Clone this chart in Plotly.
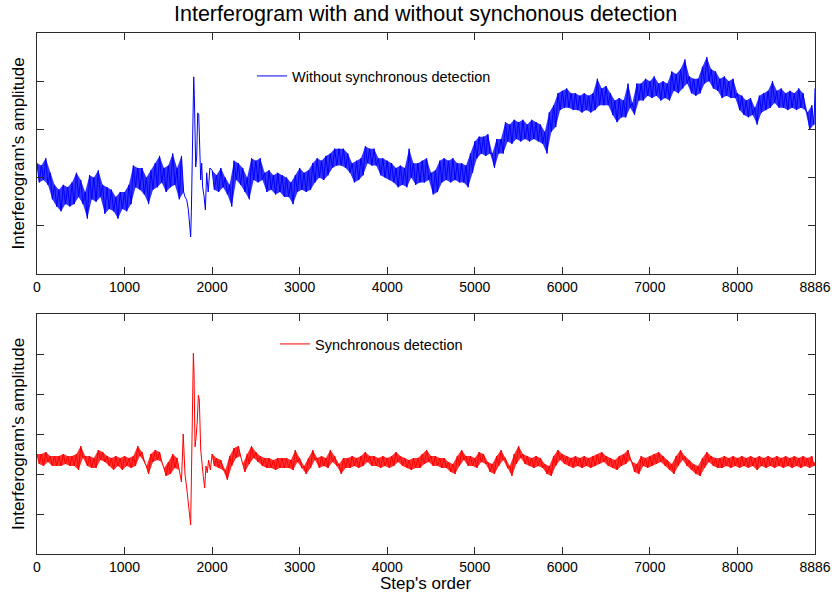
import plotly.graph_objects as go

# ---------------- data ----------------
# Sampling grids (steps) of the noisy band; the band is drawn as a dense
# trace that alternates between its read upper and lower envelope.
grid_a = list(range(0, 1651, 50))          # top, before the burst
grid_a_low = list(range(25, 1676, 50))
grid_b = list(range(2000, 8851, 50))       # after the burst
grid_b_low = list(range(2025, 8876, 50))
grid_c = list(range(0, 1601, 50))          # bottom, before the burst
grid_c_low = list(range(25, 1626, 50))

# ---- Top panel: without synchronous detection ----
top_upper_a = [
    2.3, 2.25, 2.4, 2.1, 1.85, 1.75, 1.85, 1.8, 1.9, 2.1,
    1.95, 1.7, 2.05, 2.0, 2.15, 1.85, 1.8, 1.75, 1.6, 1.7,
    1.7, 1.85, 2.25, 2.2, 2.2, 2.0, 2.15, 2.3, 2.45, 2.2,
    2.25, 2.5, 2.2, 2.45,
]
top_lower_a = [
    1.9, 1.95, 1.85, 1.55, 1.4, 1.3, 1.45, 1.4, 1.45, 1.6,
    1.45, 1.15, 1.55, 1.5, 1.6, 1.25, 1.35, 1.3, 1.15, 1.35,
    1.3, 1.45, 1.8, 1.75, 1.65, 1.45, 1.75, 1.8, 1.9, 1.7,
    1.8, 1.85, 1.55, 1.7,
]
top_burst_steps = [1690, 1710, 1729, 1748, 1755, 1763, 1774, 1782, 1790, 1797, 1805,
                   1813, 1824, 1835, 1847, 1858, 1870, 1881, 1892, 1908, 1923, 1938,
                   1955, 1975]
top_burst_amp = [1.6, 1.54, 1.33, 0.91, 0.77, 1.3, 2.78, 3.75, 4.09, 3.7, 2.78,
                 2.22, 2.43, 3.34, 3.32, 2.43, 1.95, 2.3, 1.8, 1.62, 1.33, 2.1,
                 1.7, 2.2]
top_upper_b = [
    2.15, 2.05, 2.2, 2.0, 1.85, 2.35, 2.3, 2.2, 2.0,
    2.4, 2.35, 2.4, 2.1, 2.15, 2.05, 2.1, 2.05, 2.0, 1.9,
    2.05, 2.2, 2.1, 2.15, 2.3, 2.4, 2.35, 2.45, 2.5, 2.6,
    2.6, 2.6, 2.5, 2.3, 2.35, 2.4, 2.65, 2.6, 2.6, 2.4,
    2.4, 2.35, 2.3, 2.2, 2.25, 2.2, 2.6, 2.3, 2.3, 2.35,
    2.4, 2.1, 2.15, 2.35, 2.4, 2.35, 2.4, 2.3, 2.3, 2.25,
    2.5, 2.75, 2.85, 2.85, 2.9, 2.5, 2.8, 2.8, 3.15, 3.1,
    3.2, 3.15, 3.2, 3.1, 3.2, 3.15, 3.1, 2.95, 3.35, 3.5,
    3.75, 3.8, 3.85, 3.75, 3.75, 3.7, 3.75, 3.7, 3.75, 4.05,
    3.85, 3.9, 3.75, 3.6, 3.65, 3.6, 3.95, 3.55, 3.95, 3.95,
    4.05, 4.0, 4.1, 3.95, 4.0, 3.95, 4.2, 4.15, 4.25, 4.45,
    4.1, 4.05, 4.05, 4.3, 4.5, 4.25, 4.2, 4.05, 4.1, 4.0,
    4.05, 3.75, 3.7, 3.6, 3.65, 3.45, 3.7, 3.75, 3.8, 4.0,
    3.8, 3.85, 3.75, 3.8, 3.75, 3.85, 3.75, 3.35, 3.5,
]
top_lower_b = [
    1.75, 1.7, 1.8, 1.65, 1.4, 1.95, 1.85, 1.7, 1.55,
    1.95, 1.9, 1.95, 1.7, 1.75, 1.65, 1.7, 1.6, 1.6, 1.45,
    1.7, 1.75, 1.7, 1.75, 1.9, 2.0, 1.95, 2.05, 2.2, 2.25,
    2.25, 2.2, 2.1, 1.9, 1.95, 2.05, 2.3, 2.25, 2.25, 2.05,
    2.0, 1.95, 1.9, 1.8, 1.85, 1.8, 2.0, 1.85, 1.9, 1.9,
    1.95, 1.65, 1.7, 1.9, 1.95, 1.9, 1.95, 1.9, 1.9, 1.8,
    2.1, 2.4, 2.5, 2.45, 2.5, 2.2, 2.5, 2.5, 2.75, 2.7,
    2.8, 2.75, 2.8, 2.75, 2.8, 2.75, 2.7, 2.5, 2.95, 3.05,
    3.4, 3.45, 3.45, 3.4, 3.4, 3.35, 3.4, 3.35, 3.4, 3.5,
    3.5, 3.5, 3.3, 3.15, 3.25, 3.25, 3.45, 3.3, 3.6, 3.6,
    3.7, 3.65, 3.7, 3.6, 3.65, 3.6, 3.8, 3.75, 3.85, 3.95,
    3.75, 3.7, 3.75, 3.95, 4.0, 3.85, 3.8, 3.65, 3.7, 3.65,
    3.65, 3.4, 3.3, 3.25, 3.3, 3.1, 3.35, 3.4, 3.45, 3.55,
    3.45, 3.45, 3.4, 3.45, 3.4, 3.45, 3.4, 3.0, 3.1,
]
top_end_step, top_end_amp = 8886, 3.85

# ---- Bottom panel: synchronous detection ----
bot_upper_c = [
    2.5, 2.5, 2.55, 2.45, 2.45, 2.45, 2.5, 2.45, 2.45, 2.5,
    2.7, 2.45, 2.45, 2.4, 2.6, 2.55, 2.45, 2.4, 2.45, 2.4,
    2.45, 2.4, 2.45, 2.7, 2.55, 2.2, 2.5, 2.6, 2.55, 2.15,
    2.3, 2.5, 2.4,
]
bot_lower_c = [
    2.25, 2.2, 2.3, 2.2, 2.2, 2.2, 2.25, 2.2, 2.2, 2.1,
    2.4, 2.2, 2.15, 2.15, 2.35, 2.3, 2.2, 2.1, 2.2, 2.1,
    2.2, 2.15, 2.2, 2.45, 2.3, 2.0, 2.3, 2.35, 2.3, 1.95,
    2.0, 2.15, 2.1,
]
bot_burst_steps = [1650, 1670, 1690, 1710, 1730, 1748, 1755, 1767, 1778, 1786,
                   1793, 1805, 1816, 1830, 1843, 1854, 1870, 1885, 1900, 1915, 1930, 1945,
                   1960, 1980]
bot_burst_amp = [1.8, 3.0, 2.0, 1.65, 1.27, 0.77, 0.73, 2.4, 4.43, 5.02,
                 4.6, 2.68, 2.9, 3.3, 3.97, 3.85, 2.6, 2.2, 1.93, 1.65, 2.2, 2.03,
                 2.35, 2.1]
bot_upper_b = [
    2.5, 2.4, 2.35, 2.1, 2.45, 2.65, 2.7, 2.25, 2.5,
    2.7, 2.55, 2.45, 2.4, 2.4, 2.35, 2.4, 2.4, 2.4, 2.35,
    2.6, 2.4, 2.2, 2.4, 2.6, 2.4, 2.45, 2.4, 2.6, 2.45,
    2.25, 2.4, 2.4, 2.45, 2.4, 2.45, 2.55, 2.45, 2.45, 2.4,
    2.45, 2.4, 2.45, 2.55, 2.45, 2.4, 2.35, 2.4, 2.4, 2.5,
    2.6, 2.45, 2.45, 2.4, 2.4, 2.3, 2.25, 2.45, 2.6, 2.45,
    2.45, 2.4, 2.55, 2.5, 2.3, 2.25, 2.45, 2.6, 2.4, 2.2,
    2.5, 2.7, 2.5, 2.45, 2.4, 2.45, 2.4, 2.25, 2.2, 2.45,
    2.6, 2.5, 2.45, 2.4, 2.45, 2.4, 2.45, 2.4, 2.45, 2.5,
    2.55, 2.45, 2.4, 2.35, 2.45, 2.5, 2.6, 2.3, 2.25, 2.45,
    2.4, 2.45, 2.5, 2.55, 2.45, 2.35, 2.25, 2.45, 2.6, 2.45,
    2.35, 2.25, 2.2, 2.4, 2.55, 2.45, 2.4, 2.4, 2.45, 2.4,
    2.45, 2.4, 2.45, 2.4, 2.45, 2.4, 2.45, 2.4, 2.45, 2.4,
    2.45, 2.4, 2.45, 2.4, 2.45, 2.4, 2.45, 2.4, 2.45,
]
bot_lower_b = [
    2.2, 2.15, 2.1, 1.85, 2.2, 2.4, 2.45, 2.05, 2.25,
    2.4, 2.3, 2.2, 2.15, 2.15, 2.1, 2.15, 2.15, 2.15, 2.1,
    2.3, 2.15, 2.0, 2.15, 2.35, 2.15, 2.2, 2.15, 2.3, 2.2,
    2.0, 2.15, 2.15, 2.2, 2.15, 2.2, 2.3, 2.2, 2.2, 2.15,
    2.2, 2.15, 2.2, 2.3, 2.2, 2.15, 2.1, 2.15, 2.15, 2.25,
    2.3, 2.2, 2.2, 2.15, 2.15, 2.05, 2.0, 2.2, 2.35, 2.2,
    2.2, 2.15, 2.3, 2.25, 2.05, 2.0, 2.2, 2.35, 2.15, 1.95,
    2.25, 2.4, 2.25, 2.2, 2.15, 2.2, 2.15, 2.0, 1.95, 2.2,
    2.35, 2.25, 2.2, 2.15, 2.2, 2.15, 2.2, 2.15, 2.2, 2.25,
    2.3, 2.2, 2.15, 2.1, 2.2, 2.25, 2.35, 2.05, 2.0, 2.2,
    2.15, 2.2, 2.25, 2.3, 2.2, 2.1, 2.0, 2.2, 2.35, 2.2,
    2.1, 2.0, 1.95, 2.15, 2.3, 2.2, 2.15, 2.15, 2.2, 2.15,
    2.2, 2.15, 2.2, 2.15, 2.2, 2.1, 2.2, 2.15, 2.2, 2.15,
    2.2, 2.15, 2.2, 2.15, 2.2, 2.15, 2.2, 2.15, 2.2,
]
bot_end_step, bot_end_amp = 8886, 2.3

x_tick_vals = [0, 1000, 2000, 3000, 4000, 5000, 6000, 7000, 8000, 8886]
x_tick_text = ["0", "1000", "2000", "3000", "4000", "5000", "6000", "7000", "8000", "8886"]
top_y_ticks = [1, 2, 3, 4]
bot_y_ticks = [1, 2, 3, 4, 5]

title_text = "Interferogram with and without synchonous detection"
ylabel_text = "Interferogram's amplitude"
xlabel_text = "Step's order"
top_name = "Without synchronous detection"
bot_name = "Synchronous detection"


def band(grid, grid_low, upper, lower):
    assert len(grid) == len(upper) == len(lower) == len(grid_low)
    xs, ys = [], []
    for s, sl, u, l in zip(grid, grid_low, upper, lower):
        xs += [s, sl]
        ys += [u, l]
    return xs, ys


def poly(grid, grid_low, upper, lower):
    return list(grid) + list(grid_low)[::-1], list(upper) + list(lower)[::-1]


xa, ya = band(grid_a, grid_a_low, top_upper_a, top_lower_a)
xb, yb = band(grid_b, grid_b_low, top_upper_b, top_lower_b)
top_x = xa + top_burst_steps + xb + [top_end_step]
top_y = ya + top_burst_amp + yb + [top_end_amp]

xc, yc = band(grid_c, grid_c_low, bot_upper_c, bot_lower_c)
xd, yd = band(grid_b, grid_b_low, bot_upper_b, bot_lower_b)
bot_x = xc + bot_burst_steps + xd + [bot_end_step]
bot_y = yc + bot_burst_amp + yd + [bot_end_amp]

# ---------------- figure ----------------
W, H = 832, 599
FONT = "Liberation Sans, Arial, Helvetica, sans-serif"
AX = "#2b2b2b"
BLUE = "#0000ff"
RED = "#ff0000"


def px_x(p):
    return p / W


def px_y(p):
    return 1 - p / H


fig = go.Figure()

# translucent fill of the dense noise band (behind the line)
for (g, gl, up, lo, xa_, ya_, col) in [
    (grid_a, grid_a_low, top_upper_a, top_lower_a, "x", "y", "rgba(0,0,255,0.8)"),
    (grid_b, grid_b_low, top_upper_b, top_lower_b, "x", "y", "rgba(0,0,255,0.8)"),
    (grid_c, grid_c_low, bot_upper_c, bot_lower_c, "x2", "y2", "rgba(255,0,0,0.8)"),
    (grid_b, grid_b_low, bot_upper_b, bot_lower_b, "x2", "y2", "rgba(255,0,0,0.8)"),
]:
    px_, py_ = poly(g, gl, up, lo)
    fig.add_trace(go.Scatter(x=px_, y=py_, mode="lines", fill="toself", fillcolor=col,
                             line=dict(width=0), hoverinfo="skip", showlegend=False,
                             xaxis=xa_, yaxis=ya_))

fig.add_trace(go.Scatter(x=top_x, y=top_y, mode="lines", name=top_name,
                         line=dict(color=BLUE, width=1),
                         xaxis="x", yaxis="y", legend="legend"))
fig.add_trace(go.Scatter(x=bot_x, y=bot_y, mode="lines", name=bot_name,
                         line=dict(color=RED, width=1),
                         xaxis="x2", yaxis="y2", legend="legend2"))

common = dict(showline=True, linecolor=AX, linewidth=1, mirror="ticks",
              ticks="inside", ticklen=7, tickcolor=AX, tickwidth=1,
              showgrid=False, zeroline=False, automargin=False)

xdom = [px_x(37), px_x(815)]
fig.update_layout(
    width=W, height=H,
    margin=dict(l=0, r=0, t=0, b=0),
    paper_bgcolor="white", plot_bgcolor="white",
    font=dict(family=FONT, size=14, color="black"),
    xaxis=dict(domain=xdom, range=[0, 8886], tickvals=x_tick_vals, ticktext=x_tick_text,
               anchor="y", tickfont=dict(size=14), **common),
    yaxis=dict(domain=[px_y(274), px_y(33)], range=[0, 5], tickvals=top_y_ticks,
               showticklabels=False, anchor="x", **common),
    xaxis2=dict(domain=xdom, range=[0, 8886], tickvals=x_tick_vals, ticktext=x_tick_text,
                anchor="y2", tickfont=dict(size=14), **common),
    yaxis2=dict(domain=[px_y(554), px_y(314)], range=[0, 6], tickvals=bot_y_ticks,
                showticklabels=False, anchor="x2", **common),
    legend=dict(x=px_x(252), y=px_y(76), xanchor="left", yanchor="middle",
                bgcolor="rgba(0,0,0,0)", borderwidth=0, font=dict(size=14.5)),
    legend2=dict(x=px_x(275), y=px_y(344), xanchor="left", yanchor="middle",
                 bgcolor="rgba(0,0,0,0)", borderwidth=0, font=dict(size=14.5)),
    showlegend=True,
    annotations=[
        dict(text=title_text, x=px_x(426), y=px_y(14), xref="paper", yref="paper",
             xanchor="center", yanchor="middle", showarrow=False, font=dict(size=21.5)),
        dict(text=ylabel_text, x=px_x(18), y=px_y(153.5), xref="paper", yref="paper",
             xanchor="center", yanchor="middle", showarrow=False, textangle=-90,
             font=dict(size=17)),
        dict(text=ylabel_text, x=px_x(18), y=px_y(434), xref="paper", yref="paper",
             xanchor="center", yanchor="middle", showarrow=False, textangle=-90,
             font=dict(size=17)),
        dict(text=xlabel_text, x=px_x(426), y=px_y(583), xref="paper", yref="paper",
             xanchor="center", yanchor="middle", showarrow=False, font=dict(size=17)),
    ],
)

# remove the default page margin so the 832x599 figure fills the window exactly
fig.write_html("out.html",
               config={"displayModeBar": False},
               post_script="document.body.style.margin='0';document.body.style.overflow='hidden';")
